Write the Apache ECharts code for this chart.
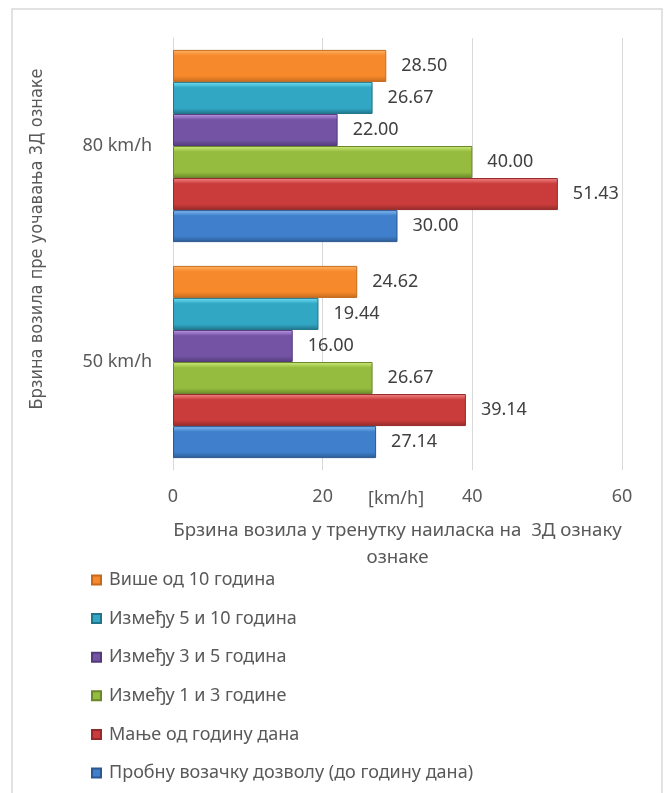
<!DOCTYPE html>
<html>
<head>
<meta charset="utf-8">
<script src="https://cdn.jsdelivr.net/npm/echarts@6/dist/echarts.min.js"></script>
<style>
  html, body { margin: 0; padding: 0; background: #fff; }
  #chart { width: 665px; height: 793px; }
</style>
</head>
<body>
<div id="chart"></div>
<script>
const categories = ['50 km/h', '80 km/h']

// series top-to-bottom inside each category (same as legend order)
const seriesNames = [
  'Више од 10 година',
  'Између 5 и 10 година',
  'Између 3 и 5 година',
  'Између 1 и 3 године',
  'Мање од годину дана',
  'Пробну возачку дозволу (до годину дана)'
]
const vise10 = [24.62, 28.50]
const izm510 = [19.44, 26.67]
const izm35 = [16.00, 22.00]
const izm13 = [26.67, 40.00]
const manje = [39.14, 51.43]
const probnu = [27.14, 30.00]
const xTicks = { min: 0, max: 60, interval: 20 }

// light / base / dark for the bevel look
const palette = [
  ['#fcb466', '#f6892b', '#c46a1e'],
  ['#74e1f7', '#31a7c4', '#217489'],
  ['#bf9cec', '#7453a4', '#523a7c'],
  ['#cfec7c', '#95bc3e', '#6a872b'],
  ['#f68888', '#c93c3b', '#93292a'],
  ['#86bdf3', '#3f7fcb', '#2c5890']
]

const fill = (c) => new echarts.graphic.LinearGradient(0, 0, 0, 1, [
  { offset: 0, color: c[0] },
  { offset: 0.18, color: c[1] },
  { offset: 0.82, color: c[1] },
  { offset: 1, color: c[2] }
])

const font = "'Noto Sans', 'Open Sans', sans-serif"
const values = [vise10, izm510, izm35, izm13, manje, probnu]

const chart = echarts.init(document.getElementById('chart'))
chart.setOption({
  backgroundColor: '#fff',
  animation: false,
  textStyle: { fontFamily: font },
  grid: { left: 173, right: 43, top: 38, bottom: 323 },
  legend: {
    orient: 'vertical',
    left: 86,
    top: 566,
    itemWidth: 9,
    itemHeight: 9,
    itemGap: 20.6,
    icon: 'rect',
    data: seriesNames,
    textStyle: { fontSize: 18, color: '#595959', fontFamily: font, padding: [0, 0, 0, 3] }
  },
  xAxis: {
    type: 'value',
    min: xTicks.min,
    max: xTicks.max,
    interval: xTicks.interval,
    axisLine: { show: false },
    axisTick: { show: false },
    splitLine: { lineStyle: { color: '#d9d9d9', width: 1 } },
    axisLabel: { fontSize: 18, color: '#595959', margin: 18 },
    name: 'Брзина возила у тренутку наиласка на  3Д ознаку\nознаке',
    nameLocation: 'middle',
    nameGap: 47,
    nameTextStyle: { fontSize: 18.7, color: '#595959', lineHeight: 27, verticalAlign: 'top' }
  },
  yAxis: {
    type: 'category',
    data: categories,
    axisLine: { show: true, lineStyle: { color: '#d9d9d9', width: 1 } },
    axisTick: { show: false },
    axisLabel: { fontSize: 18, color: '#595959', margin: 21 },
    name: 'Брзина возила пре уочавања 3Д ознаке',
    nameLocation: 'middle',
    nameGap: 127,
    nameRotate: 90,
    nameTextStyle: {
      fontSize: 18,
      color: '#595959',
      padding: [0, 0, 0, 30],
      fontFamily: "'Liberation Sans Narrow', 'DejaVu Sans Condensed', sans-serif"
    }
  },
  graphic: [
    {
      type: 'rect',
      shape: { x: 12, y: 9, width: 650, height: 800 },
      style: { fill: 'none', stroke: '#d9d9d9', lineWidth: 1.5 },
      silent: true
    },
    {
      type: 'text',
      left: 368,
      top: 490,
      style: { text: '[km/h]', fontSize: 18, fill: '#595959', fontFamily: font }
    }
  ],
  series: seriesNames.map((name, i) => ({
    name,
    type: 'bar',
    data: values[i],
    barGap: '0%',
    barCategoryGap: '11%',
    itemStyle: { color: fill(palette[i]), borderColor: palette[i][2], borderWidth: 1 },
    label: {
      show: true,
      position: 'right',
      distance: 15,
      fontSize: 18,
      color: '#404040',
      formatter: (p) => p.value.toFixed(2)
    }
  }))
})
</script>
</body>
</html>
